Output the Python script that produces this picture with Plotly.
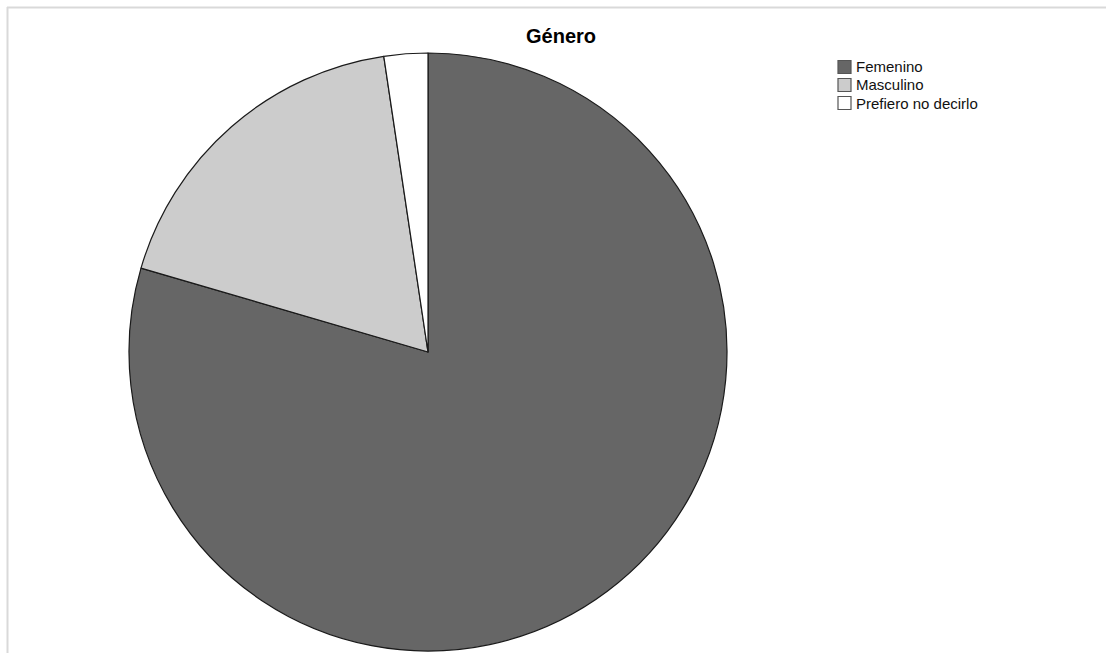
import plotly.graph_objects as go

W, H = 1106, 653

categories = ["Femenino", "Masculino", "Prefiero no decirlo"]
counts = [101, 23, 3]
colors = ["#666666", "#cccccc", "#ffffff"]

def px_x(p):
    return p / W

def px_y(p):
    return 1 - p / H

cx, cy, r = 428, 352, 299

fig = go.Figure(
    go.Pie(
        labels=categories,
        values=counts,
        sort=False,
        direction="clockwise",
        rotation=0,
        textinfo="none",
        hoverinfo="label+value+percent",
        showlegend=False,
        marker=dict(colors=colors, line=dict(color="#1a1a1a", width=1.2)),
        domain=dict(x=[px_x(cx - r), px_x(cx + r)], y=[px_y(cy + r), px_y(cy - r)]),
    )
)

# custom legend (layout only): squares + labels built from the category lists
shapes = [
    dict(type="line", xref="paper", yref="paper",
         x0=px_x(7), x1=1.0, y0=px_y(7.5), y1=px_y(7.5),
         line=dict(color="#d9d9d9", width=2)),
    dict(type="line", xref="paper", yref="paper",
         x0=px_x(7.5), x1=px_x(7.5), y0=px_y(7), y1=0,
         line=dict(color="#d9d9d9", width=2)),
]
annotations = []
leg_x, leg_y0, leg_dy, sq = 838, 67, 18, 13
for i, (lab, col) in enumerate(zip(categories, colors)):
    yc = leg_y0 + i * leg_dy
    shapes.append(dict(
        type="rect", xref="paper", yref="paper",
        x0=px_x(leg_x), x1=px_x(leg_x + sq),
        y0=px_y(yc + sq / 2), y1=px_y(yc - sq / 2),
        fillcolor=col, line=dict(color="#555555", width=1.2),
    ))
    annotations.append(dict(
        xref="paper", yref="paper", x=px_x(leg_x + sq + 3), y=px_y(yc),
        xanchor="left", yanchor="middle", text=lab, showarrow=False,
        font=dict(size=15, color="#111111"),
    ))

fig.update_layout(
    width=W,
    height=H,
    margin=dict(l=0, r=0, t=0, b=0),
    paper_bgcolor="white",
    plot_bgcolor="white",
    font=dict(family="Liberation Sans, Arial, sans-serif", color="#000000"),
    title=dict(
        text="<b>Género</b>",
        x=px_x(561),
        xanchor="center",
        y=px_y(36),
        yanchor="middle",
        font=dict(size=20, color="#000000"),
    ),
    showlegend=False,
    shapes=shapes,
    annotations=annotations,
)

fig.write_html("out.html", config={"displayModeBar": False},
               post_script="document.body.style.margin='0px';")
